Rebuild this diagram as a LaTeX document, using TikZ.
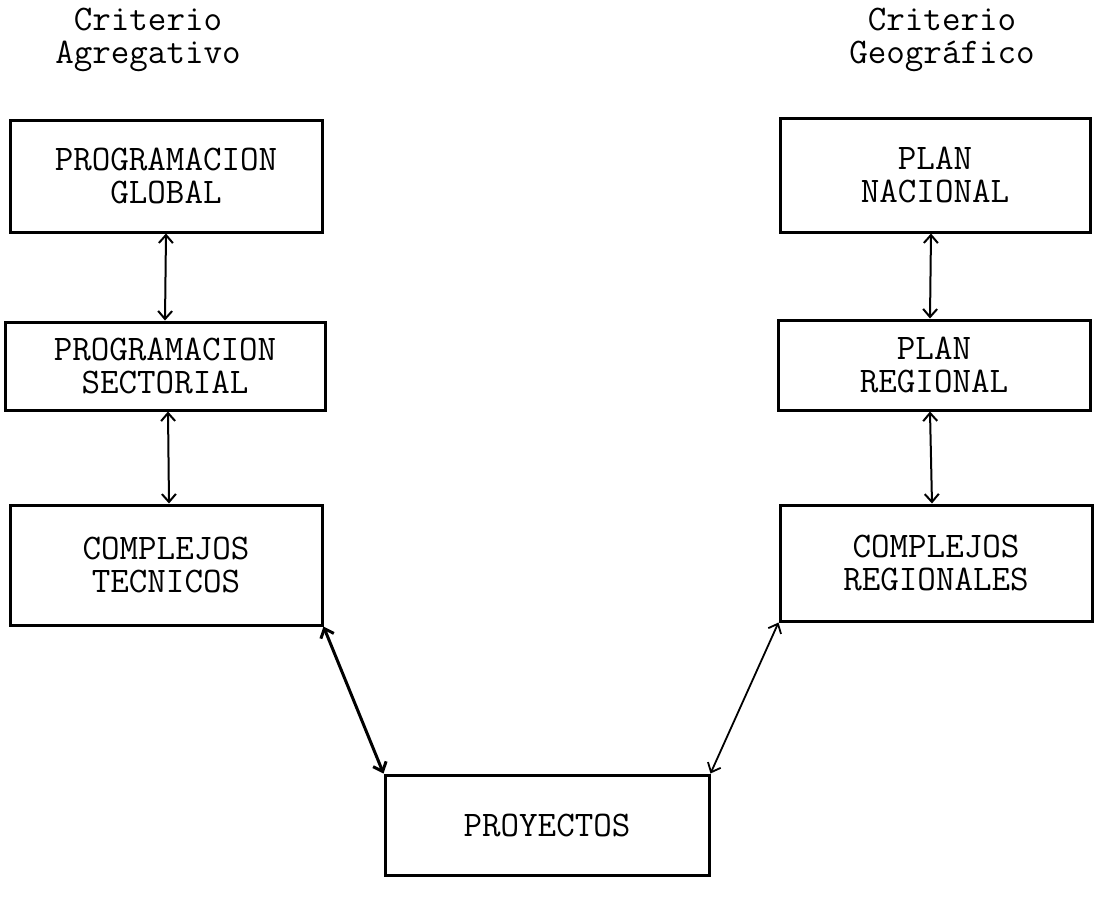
\documentclass[tikz,border=0pt]{standalone}
\usepackage{tikz}
\usetikzlibrary{arrows.meta}

\tikzset{
  caja/.style={draw, line width=1.5pt, align=center, inner sep=0pt},
  flecha/.style={{Straight Barb[length=4pt,width=7pt]}-{Straight Barb[length=4pt,width=7pt]}, line width=1pt},
  titulo/.style={align=center}
}

\begin{document}
\begin{tikzpicture}[x=0.5pt,y=-0.5pt,font=\ttfamily\fontsize{18}{16.5}\selectfont]
\useasboundingbox (0,0) rectangle (1100,902);

% titles
\node[titulo] (tagr) at (148,40) {Criterio\\Agregativo};
\node[titulo] (tgeo) at (942,40) {Criterio\\Geogr\'afico};

% left column
\node[caja, minimum width=156pt, minimum height=56pt] (pglobal) at (166,176) {PROGRAMACION\\GLOBAL};
\node[caja, minimum width=160pt, minimum height=44pt] (psector) at (165,366) {PROGRAMACION\\SECTORIAL};
\node[caja, minimum width=156pt, minimum height=60pt] (ctecnico) at (166,565) {COMPLEJOS\\TECNICOS};

% right column
\node[caja, minimum width=155pt, minimum height=57pt] (pnacional) at (935,175) {PLAN\\NACIONAL};
\node[caja, minimum width=156pt, minimum height=45pt] (pregional) at (934,365) {PLAN\\REGIONAL};
\node[caja, minimum width=156pt, minimum height=58pt] (cregional) at (936,563) {COMPLEJOS\\REGIONALES};

% bottom
\node[caja, minimum width=162pt, minimum height=50pt] (proyectos) at (547,825) {PROYECTOS};

% arrows
\draw[flecha] (pglobal.south) -- (psector.north);
\draw[flecha] ([xshift=1.5pt]psector.south) -- ([xshift=1.5pt]ctecnico.north);
\draw[flecha] ([xshift=-2pt]pnacional.south) -- ([xshift=-2pt]pregional.north);
\draw[flecha] ([xshift=-2pt]pregional.south) -- ([xshift=-2pt]cregional.north);
\draw[flecha, line width=1.5pt] (ctecnico.south east) -- (proyectos.north west);
\draw[flecha, line width=0.9pt] (cregional.south west) -- (proyectos.north east);
\end{tikzpicture}
\end{document}
